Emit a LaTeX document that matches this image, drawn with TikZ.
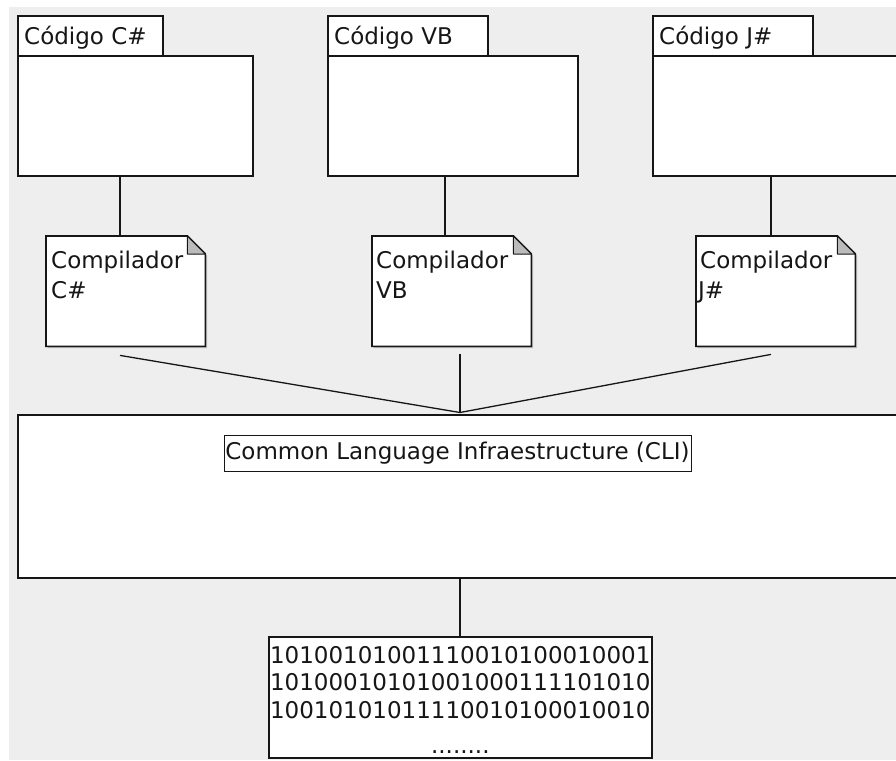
\documentclass[tikz,border=0pt]{standalone}
\usepackage{fontspec}
\setmainfont{DejaVu Sans}
\usetikzlibrary{shadows,calc}
\definecolor{canvasgray}{HTML}{EEEEEE}
\definecolor{foldgray}{HTML}{BBBBBB}
\definecolor{inkcol}{HTML}{161616}

% outline of a UML note with a folded top-right corner
\newcommand\dogear[1]{%
  \draw[noteline, boxshadow] (#1.north west) -- ([xshift=-18pt]#1.north east)
    -- ([yshift=-18pt]#1.north east) -- (#1.south east) -- (#1.south west) -- cycle;
  \filldraw[fill=foldgray, draw=inkcol, line width=1pt, line join=round]
    ([xshift=-18pt]#1.north east) -- ([xshift=-18pt,yshift=-18pt]#1.north east)
    -- ([yshift=-18pt]#1.north east) -- cycle;
}

\begin{document}
\begin{tikzpicture}[x=1pt,y=-1pt,
  boxshadow/.style={drop shadow={shadow xshift=1.6pt,shadow yshift=-1.6pt,opacity=0.22,fill=black}},
  frame/.style={draw=inkcol,line width=1.6pt,fill=white,rectangle,inner sep=0pt,anchor=north west},
  noteline/.style={draw=inkcol,line width=1.6pt,fill=white,line join=miter},
  notebox/.style={rectangle,inner sep=0pt,anchor=north west,minimum width=159,minimum height=110},
  link/.style={draw=inkcol,line width=1.3pt},
  txt/.style={inner sep=0pt,text=inkcol,font=\fontsize{23}{27}\selectfont},
]
\useasboundingbox (0,0) rectangle (896,760);
\clip (0,0) rectangle (896,760);
\fill[canvasgray] (9,7) rectangle (896,760);

% ---- source code packages
\node[frame, boxshadow, minimum width=145, minimum height=40] (cstab) at (17,15) {};
\node[frame, boxshadow, minimum width=235, minimum height=120] (csbody) at (17,55) {};
\node[txt, anchor=base west] (cslabel) at ($(cstab.north west)+(7,30)$) {Código C\#};

\node[frame, boxshadow, minimum width=160, minimum height=40] (vbtab) at (327,15) {};
\node[frame, boxshadow, minimum width=250, minimum height=120] (vbbody) at (327,55) {};
\node[txt, anchor=base west] (vblabel) at ($(vbtab.north west)+(7,30)$) {Código VB};

\node[frame, boxshadow, minimum width=160, minimum height=40] (jstab) at (652,15) {};
\node[frame, boxshadow, minimum width=260, minimum height=120] (jsbody) at (652,55) {};
\node[txt, anchor=base west] (jslabel) at ($(jstab.north west)+(7,30)$) {Código J\#};

% ---- compilers (notes)
\node[notebox] (csc) at (46,236) {};
\node[notebox] (vbc) at (372,236) {};
\node[notebox] (jsc) at (696,236) {};
\dogear{csc}
\dogear{vbc}
\dogear{jsc}
\node[txt, anchor=base west] (csc1) at ($(csc.north west)+(5,32)$) {Compilador};
\node[txt, anchor=base west] (csc2) at ($(csc.north west)+(5,62)$) {C\#};
\node[txt, anchor=base west] (vbc1) at ($(vbc.north west)+(4,32)$) {Compilador};
\node[txt, anchor=base west] (vbc2) at ($(vbc.north west)+(4,62)$) {VB};
\node[txt, anchor=base west] (jsc1) at ($(jsc.north west)+(4,32)$) {Compilador};
\node[txt, anchor=base west] (jsc2) at ($(jsc.north west)+(2,62)$) {J\#};

% ---- common language infrastructure
\node[frame, minimum width=900, minimum height=163] (cli) at (17,414) {};
\node[draw=inkcol, line width=1pt, fill=white, inner sep=0pt, minimum width=467,
      minimum height=36, text=inkcol, font=\fontsize{23}{27}\selectfont] (clilabel)
      at (457.5,453) {Common Language Infraestructure (CLI)};

% ---- binary output
\node[frame, boxshadow, minimum width=383, minimum height=121] (bin) at (268,636) {};
\node[txt, anchor=base] (bin1) at ($(bin.north)+(0,27)$) {10100101001110010100010001};
\node[txt, anchor=base] (bin2) at ($(bin.north)+(0,54.5)$) {10100010101001000111101010};
\node[txt, anchor=base] (bin3) at ($(bin.north)+(0,82)$) {10010101011110010100010010};
\node[txt, anchor=base] (bin4) at ($(bin.north)+(0,117)$) {........};

% ---- connectors
\coordinate (csx) at (120,0);
\coordinate (vbx) at (445,0);
\coordinate (jsx) at (771,0);
\coordinate (hub) at (460,412.5);
\draw[link] (csbody.south -| csx) -- (csc.north -| csx);
\draw[link] (vbbody.south -| vbx) -- (vbc.north -| vbx);
\draw[link] (jsbody.south -| jsx) -- (jsc.north -| jsx);

\coordinate (csout) at ($(csc.south -| csx)+(0,9)$);
\coordinate (vbout) at ($(vbc.south -| hub)+(0,8)$);
\coordinate (jsout) at ($(jsc.south -| jsx)+(0,8)$);
\draw[link] (csout) -- (hub);
\draw[link] (vbout) -- (hub);
\draw[link] (jsout) -- (hub);

\draw[link] (cli.south -| hub) -- (bin.north -| hub);
\end{tikzpicture}
\end{document}
